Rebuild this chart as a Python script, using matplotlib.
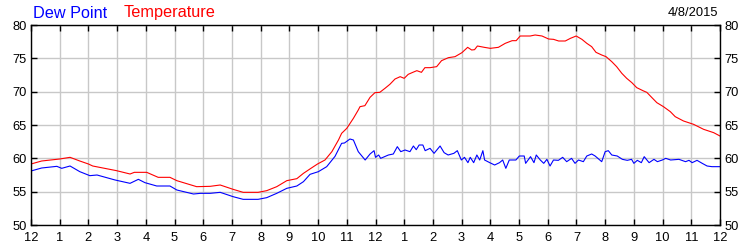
import matplotlib
matplotlib.use("Agg")
import matplotlib.pyplot as plt
import numpy as np

plt.rcParams["font.family"] = ["Liberation Sans", "DejaVu Sans"]

# hours since midnight, temperature (F)
temp_hours = [
    0.0, 0.37, 1.0, 1.36, 1.7, 2.0, 2.15, 2.98, 3.45, 3.6, 4.03, 4.43, 4.84,
    5.08, 5.77, 6.24, 6.59, 7.04, 7.39, 7.91, 8.21, 8.56, 8.91, 9.26, 9.49,
    9.75, 9.98, 10.24, 10.48, 10.71, 10.82, 11.0, 11.23, 11.4, 11.46, 11.63,
    11.81, 11.98, 12.15, 12.33, 12.5, 12.68, 12.86, 13.0, 13.14, 13.3, 13.44,
    13.6, 13.72, 13.9, 14.13, 14.3, 14.54, 14.77, 15.01, 15.21, 15.35, 15.45,
    15.55, 15.79, 16.0, 16.28, 16.52, 16.76, 16.9, 17.04, 17.39, 17.56, 17.8,
    18.03, 18.2, 18.38, 18.61, 18.79, 18.99, 19.19, 19.36, 19.53, 19.68,
    19.88, 20.03, 20.23, 20.4, 20.58, 20.75, 20.93, 21.1, 21.34, 21.45,
    21.63, 21.8, 22.03, 22.27, 22.44, 22.73, 23.08, 23.43, 23.78, 24.0,
]
temperature = [
    59.15, 59.6, 59.9, 60.15, 59.6, 59.15, 58.85, 58.15, 57.65, 57.9, 57.9,
    57.15, 57.15, 56.65, 55.75, 55.8, 56.0, 55.35, 54.9, 54.9, 55.15, 55.75,
    56.65, 56.95, 57.75, 58.5, 59.15, 59.75, 61.0, 62.75, 63.75, 64.5, 66.0,
    67.25, 67.75, 67.9, 69.15, 69.85, 69.9, 70.5, 71.1, 71.9, 72.25, 72.0,
    72.6, 72.9, 73.15, 72.9, 73.6, 73.6, 73.75, 74.65, 75.1, 75.25, 75.85,
    76.65, 76.25, 76.3, 76.85, 76.65, 76.5, 76.65, 77.25, 77.65, 77.65, 78.35,
    78.35, 78.5, 78.35, 77.9, 77.85, 77.6, 77.6, 78.0, 78.35, 77.85, 77.25,
    76.75, 75.9, 75.5, 75.25, 74.5, 73.75, 72.75, 72.0, 71.35, 70.6, 70.1,
    69.9, 69.1, 68.35, 67.75, 67.0, 66.25, 65.6, 65.1, 64.35, 63.85, 63.35,
]

# hours since midnight, dew point (F)
dew_hours = [
    0.0, 0.37, 0.9, 1.07, 1.36, 1.7, 2.05, 2.3, 2.93, 3.45, 3.74, 3.97, 4.38,
    4.84, 5.08, 5.66, 5.9, 6.24, 6.59, 7.04, 7.39, 7.91, 8.21, 8.56, 8.91,
    9.26, 9.49, 9.72, 10.01, 10.3, 10.59, 10.82, 10.92, 11.11, 11.23, 11.4,
    11.64, 11.81, 11.95, 12.0, 12.11, 12.18, 12.45, 12.62, 12.76, 12.88,
    13.03, 13.2, 13.32, 13.42, 13.52, 13.65, 13.73, 13.9, 14.04, 14.25, 14.39,
    14.53, 14.73, 14.85, 14.99, 15.1, 15.22, 15.3, 15.42, 15.53, 15.63, 15.74,
    15.8, 15.98, 16.15, 16.32, 16.43, 16.54, 16.66, 16.89, 17.01, 17.18,
    17.23, 17.4, 17.52, 17.6, 17.74, 17.86, 17.97, 18.08, 18.2, 18.37, 18.52,
    18.66, 18.83, 18.95, 19.07, 19.24, 19.36, 19.53, 19.65, 19.88, 20.0,
    20.11, 20.23, 20.42, 20.6, 20.77, 20.92, 21.0, 21.12, 21.26, 21.36, 21.53,
    21.7, 21.82, 21.99, 22.11, 22.28, 22.57, 22.8, 22.92, 23.03, 23.2, 23.38,
    23.55, 23.72, 24.0,
]
dew_point = [
    58.1, 58.55, 58.8, 58.5, 58.85, 58.0, 57.4, 57.5, 56.75, 56.25, 56.85,
    56.35, 55.85, 55.85, 55.25, 54.65, 54.75, 54.75, 54.9, 54.25, 53.85, 53.85,
    54.1, 54.75, 55.5, 55.85, 56.5, 57.6, 58.0, 58.75, 60.3, 62.25, 62.3, 62.9,
    62.75, 61.0, 59.75, 60.65, 61.15, 60.15, 60.5, 60.0, 60.5, 60.65, 61.75,
    61.0, 61.25, 61.0, 61.85, 61.3, 62.0, 62.0, 61.15, 61.5, 60.75, 61.85,
    60.85, 60.5, 60.75, 61.15, 59.75, 60.15, 59.35, 60.15, 59.35, 60.5, 59.75,
    61.15, 59.75, 59.35, 59.0, 59.35, 59.75, 58.5, 59.75, 59.75, 60.35, 60.35,
    59.25, 60.25, 59.35, 60.5, 59.75, 59.25, 59.85, 58.85, 59.75, 59.7, 60.15,
    59.5, 60.0, 59.25, 59.75, 59.5, 60.35, 60.65, 60.35, 59.5, 61.0, 61.15,
    60.5, 60.35, 59.85, 59.7, 59.85, 59.25, 59.7, 59.35, 60.25, 59.35, 59.85,
    59.5, 59.75, 60.0, 59.75, 59.85, 59.5, 59.7, 59.35, 59.7, 59.25, 58.85,
    58.75, 58.75,
]

x_ticks = list(range(0, 25))
x_labels = ["12"] + [str(h) for h in range(1, 12)] + ["12"] + [str(h) for h in range(1, 12)] + ["12"]
y_ticks = [50, 55, 60, 65, 70, 75, 80]

fig = plt.figure(figsize=(7.5, 2.5), dpi=100)
ax = fig.add_axes([31 / 750, 0.1, 689 / 750, 0.8])

ax.plot(temp_hours, temperature, color="#FF0000", linewidth=0.8)
ax.plot(dew_hours, dew_point, color="#0000FF", linewidth=0.8)

ax.set_xlim(0, 24)
ax.set_ylim(50, 80)
ax.set_xticks(x_ticks)
ax.set_xticklabels(x_labels, fontsize=9.3)
ax.set_yticks(y_ticks)
ax.set_yticklabels([str(v) for v in y_ticks], fontsize=9.3)

ax.grid(True, color="#C8C8C8", linewidth=1.0)
ax.set_axisbelow(True)
ax.tick_params(axis="both", direction="in", length=4, width=1, color="black",
               top=True, right=True, labelright=True, pad=3)
ax.tick_params(axis="x", pad=5)
for s in ax.spines.values():
    s.set_linewidth(1.0)
    s.set_color("black")

fig.text(33 / 750, 1 - 13 / 250, "Dew Point", color="#0000FF", fontsize=11.7, va="center", ha="left")
fig.text(124 / 750, 1 - 13 / 250, "Temperature", color="#FF0000", fontsize=11.7, va="center", ha="left")
fig.text(718 / 750, 1 - 13 / 250, "4/8/2015", color="black", fontsize=9.3, va="center", ha="right")

fig.savefig("out.png", dpi=100)
